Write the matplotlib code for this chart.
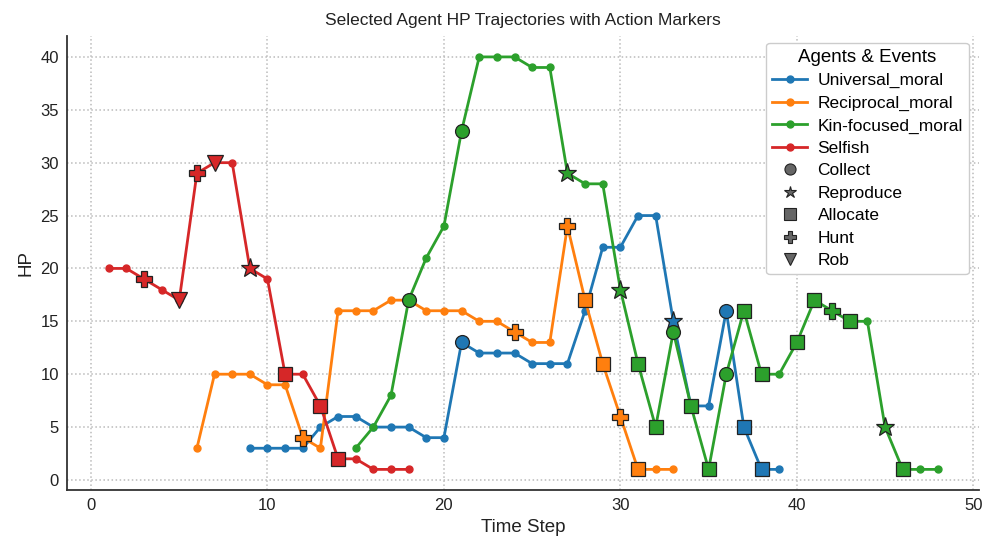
import matplotlib
matplotlib.use("Agg")
import matplotlib.pyplot as plt
from matplotlib.lines import Line2D

plt.rcParams['font.family'] = ['Liberation Sans', 'DejaVu Sans']

# ---- data ----
universal_t = list(range(9, 40))
universal_hp = [3, 3, 3, 3, 5, 6, 6, 5, 5, 5, 4, 4, 13, 12, 12, 12, 11, 11, 11,
                16, 22, 22, 25, 25, 15, 7, 7, 16, 5, 1, 1]
universal_ev_t = [21, 33, 36, 37, 38]
universal_ev = ['Collect', 'Reproduce', 'Collect', 'Allocate', 'Allocate']

reciprocal_t = list(range(6, 34))
reciprocal_hp = [3, 10, 10, 10, 9, 9, 4, 3, 16, 16, 16, 17, 17, 16, 16, 16, 15, 15,
                 14, 13, 13, 24, 17, 11, 6, 1, 1, 1]
reciprocal_ev_t = [12, 24, 27, 28, 29, 30, 31]
reciprocal_ev = ['Hunt', 'Hunt', 'Hunt', 'Allocate', 'Allocate', 'Hunt', 'Allocate']

kin_t = list(range(15, 49))
kin_hp = [3, 5, 8, 17, 21, 24, 33, 40, 40, 40, 39, 39, 29, 28, 28, 18, 11, 5, 14,
          7, 1, 10, 16, 10, 10, 13, 17, 16, 15, 15, 5, 1, 1, 1]
kin_ev_t = [18, 21, 27, 30, 31, 32, 33, 34, 35, 36, 37, 38, 40, 41, 42, 43, 45, 46]
kin_ev = ['Collect', 'Collect', 'Reproduce', 'Reproduce', 'Allocate', 'Allocate',
          'Collect', 'Allocate', 'Allocate', 'Collect', 'Allocate', 'Allocate',
          'Allocate', 'Allocate', 'Hunt', 'Allocate', 'Reproduce', 'Allocate']

selfish_t = list(range(1, 19))
selfish_hp = [20, 20, 19, 18, 17, 29, 30, 30, 20, 19, 10, 10, 7, 2, 2, 1, 1, 1]
selfish_ev_t = [3, 5, 6, 7, 9, 11, 13, 14]
selfish_ev = ['Hunt', 'Rob', 'Hunt', 'Rob', 'Reproduce', 'Allocate', 'Allocate', 'Allocate']

agent_names = ['Universal_moral', 'Reciprocal_moral', 'Kin-focused_moral', 'Selfish']
agent_colors = ['#1f77b4', '#ff7f0e', '#2ca02c', '#d62728']
event_names = ['Collect', 'Reproduce', 'Allocate', 'Hunt', 'Rob']
event_markers = {'Collect': 'o', 'Reproduce': '*', 'Allocate': 's', 'Hunt': 'P', 'Rob': 'v'}
event_sizes = {'Collect': 10, 'Reproduce': 14, 'Allocate': 10, 'Hunt': 12, 'Rob': 11}

agents = [
    (universal_t, universal_hp, universal_ev_t, universal_ev),
    (reciprocal_t, reciprocal_hp, reciprocal_ev_t, reciprocal_ev),
    (kin_t, kin_hp, kin_ev_t, kin_ev),
    (selfish_t, selfish_hp, selfish_ev_t, selfish_ev),
]

fig = plt.figure(figsize=(9.97, 5.54), dpi=100)
ax = fig.add_axes([0.0674, 0.1155, 0.915, 0.819])

for (t, hp, et, ev), name, col in zip(agents, agent_names, agent_colors):
    ax.plot(t, hp, '-o', color=col, lw=2, ms=5, label=name, zorder=3)
    lookup = dict(zip(t, hp))
    for x, e in zip(et, ev):
        ax.plot([x], [lookup[x]], linestyle='none', marker=event_markers[e],
                ms=event_sizes[e], mfc=col, mec='#222222', mew=0.9, zorder=4)

ax.grid(True, linestyle=':', color='#bbbbbb', linewidth=1.1)
for s in ['top', 'right']:
    ax.spines[s].set_visible(False)
for s in ['left', 'bottom']:
    ax.spines[s].set_color('#333333')
    ax.spines[s].set_linewidth(1.3)
ax.tick_params(labelsize=12, length=0, pad=6, colors='#222222')
ax.set_xticks([0, 10, 20, 30, 40, 50])
ax.set_yticks([0, 5, 10, 15, 20, 25, 30, 35, 40])
ax.set_xlabel('Time Step', fontsize=13.5, color='#222222')
ax.set_ylabel('HP', fontsize=13.5, color='#222222')
ax.set_title('Selected Agent HP Trajectories with Action Markers', fontsize=12.5,
             color='#222222', pad=8)

handles = [Line2D([0], [0], color=c, lw=2, marker='o', ms=5, label=n)
           for n, c in zip(agent_names, agent_colors)]
handles += [Line2D([0], [0], linestyle='none', marker=event_markers[e], ms=8 if e != 'Reproduce' else 9,
                   mfc='#666666', mec='#222222', mew=0.8, label=e) for e in event_names]
leg = ax.legend(handles=handles, loc='upper right', title='Agents & Events',
                fontsize=12.5, title_fontsize=13.5, frameon=True, framealpha=1,
                edgecolor='#cccccc', handlelength=2.0, labelspacing=0.42,
                borderpad=0.35, handletextpad=0.6, bbox_to_anchor=(0.998, 1.005))
leg.get_frame().set_linewidth(1.0)

fig.savefig('out.png', dpi=100)
